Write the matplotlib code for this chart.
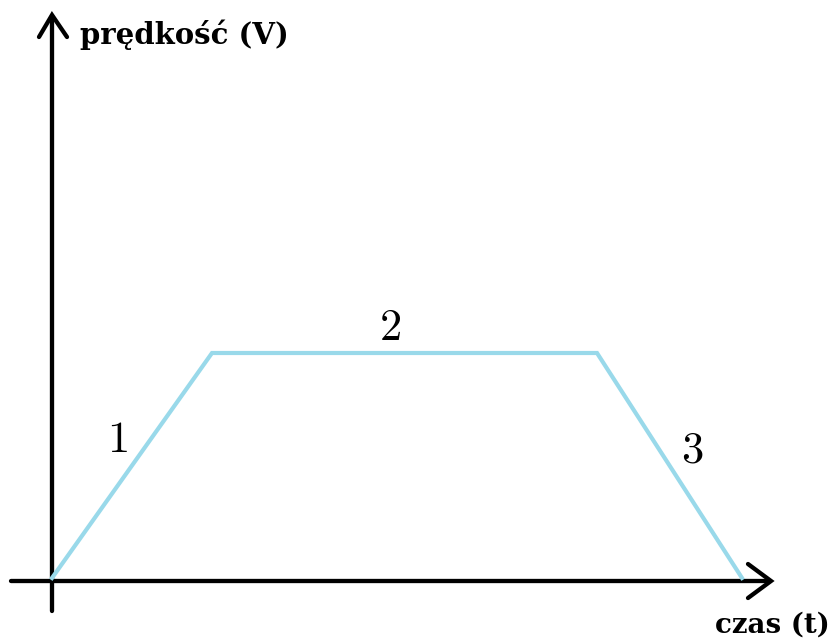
import matplotlib.pyplot as plt

plt.rcParams["mathtext.fontset"] = "cm"

# speed profile: accelerate, constant, brake (time units, speed units)
czas = [0.0, 1.6, 5.45, 6.9]
predkosc = [0.0, 2.25, 2.25, 0.0]
etykiety = ["1", "2", "3"]
etykiety_t = [0.65, 3.38, 6.4]
etykiety_v = [1.38, 2.5, 1.28]

fig = plt.figure(figsize=(8.35, 6.43), dpi=100)
ax = fig.add_axes([0, 0, 1, 1])
ax.set_xlim(-0.52, 7.83)
ax.set_ylim(-0.65, 5.78)
ax.axis("off")

black = "black"
lw = 3.1
# y axis with arrow
ax.plot([0, 0], [-0.33, 5.62], color=black, lw=lw, solid_capstyle="round")
ax.plot([-0.13, 0, 0.15], [5.41, 5.63, 5.41], color=black, lw=lw,
        solid_capstyle="round", solid_joinstyle="miter")
# x axis with arrow
ax.plot([-0.41, 7.18], [-0.03, -0.03], color=black, lw=lw, solid_capstyle="round")
ax.plot([6.96, 7.19, 6.96], [0.14, -0.03, -0.2], color=black, lw=lw,
        solid_capstyle="round", solid_joinstyle="miter")

ax.plot(czas, predkosc, color="#99D9EA", lw=3.0, solid_joinstyle="miter")

for lab, x, y in zip(etykiety, etykiety_t, etykiety_v):
    ax.text(x, y, "$" + lab + "$", fontsize=32, ha="center", va="center")

ax.text(0.28, 5.43, "prędkość (V)", fontsize=21, fontweight="bold",
        family="DejaVu Serif", ha="left", va="center")
ax.text(7.78, -0.47, "czas (t)", fontsize=20, fontweight="bold",
        family="DejaVu Serif", ha="right", va="center")

fig.savefig("out.png", dpi=100)
